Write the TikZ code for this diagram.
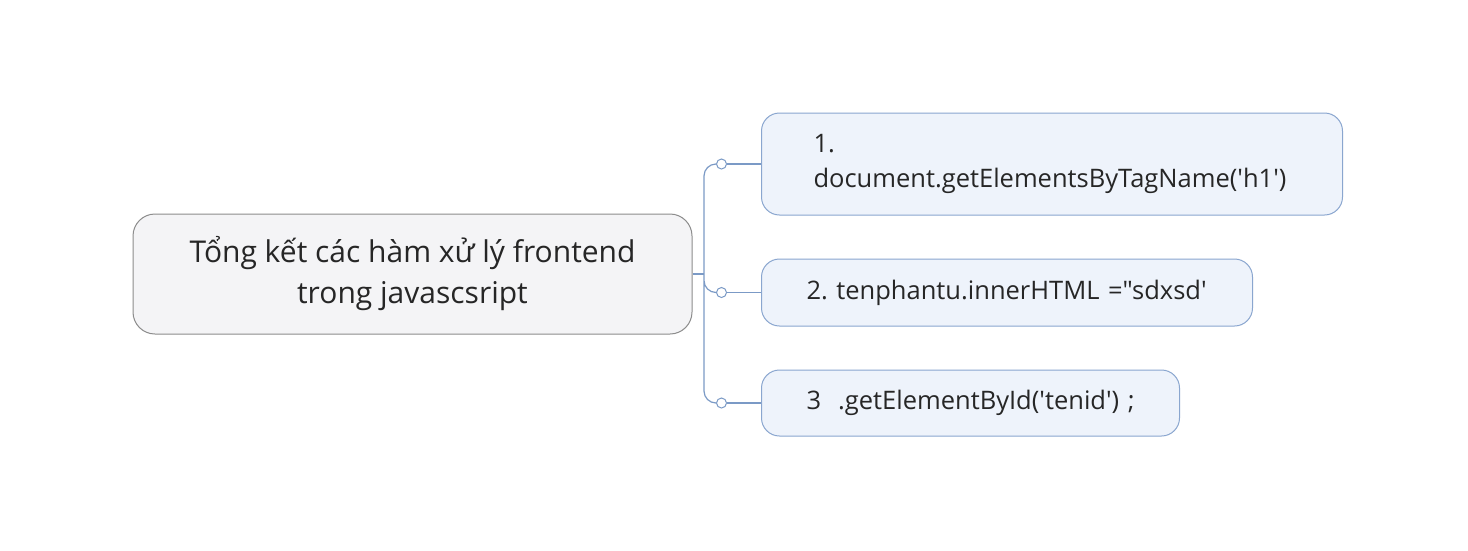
\documentclass[tikz,border=0pt]{standalone}
\usepackage{fontspec}
\setmainfont{Open Sans}[Ligatures=TeXOff]
\usepackage{tikz}
\usetikzlibrary{positioning}
\definecolor{rootline}{HTML}{8C8C8C}
\definecolor{rootfill}{HTML}{F4F4F6}
\definecolor{childline}{HTML}{8AA6CF}
\definecolor{childfill}{HTML}{EEF3FB}
\definecolor{linkblue}{HTML}{7B9AC6}
\frenchspacing

\begin{document}
\begin{tikzpicture}[x=1pt,y=-1pt,
        rootbox/.style={draw=rootline,fill=rootfill,line width=1pt,rounded corners=22pt,
            minimum width=559pt,minimum height=120pt,align=center,
            font=\fontsize{30}{41}\selectfont,text=black!85},
        childbox/.style 2 args={draw=childline,fill=childfill,line width=1pt,rounded corners=18pt,
            inner xsep=0pt,inner ysep=0pt,text width=#1,minimum height=#2,align=left,anchor=west,
            font=\fontsize{25.5}{35}\selectfont,text=black!85},
        knob/.style={circle,draw=linkblue,fill=white,line width=1pt,inner sep=0pt,minimum size=10pt},
        link/.style={draw=linkblue,line width=1.2pt}]
        \useasboundingbox[fill=white] (0,0) rectangle (1468,550);

        \node(root)[rootbox] at (412.5,274) {Tổng kết các hàm xử lý frontend\\trong javascsript};

        \node(item1)[childbox={581pt}{102pt},execute at begin node={\leftskip=52pt}] at (761,164)
            {1.\\document.getElementsByTagName('h1')};
        \node(item2)[childbox={491pt}{67pt},execute at begin node={\leftskip=45pt}] at (761,292.5)
            {2. tenphantu.innerHTML ="sdxsd'};
        \node(item3)[childbox={418pt}{66pt},execute at begin node={\leftskip=45pt}] at (761,403)
            {3~~.getElementById('tenid') ;};

        \node(c1)[knob] at (721.5,164) {};
        \node(c2)[knob] at (721.5,292.5) {};
        \node(c3)[knob] at (721.5,403) {};
        \coordinate(hub) at (704,274);

        \draw[link] (root.east) -- (hub);
        \draw[link,rounded corners=12pt]
            (c1.west) -| (hub) |- (c3.west)
            (hub) |- (c2.west);
        \draw[link]
            (c1)edge(item1.west)
            (c2)edge(item2.west)
            (c3)edge(item3.west);
\end{tikzpicture}
\end{document}
